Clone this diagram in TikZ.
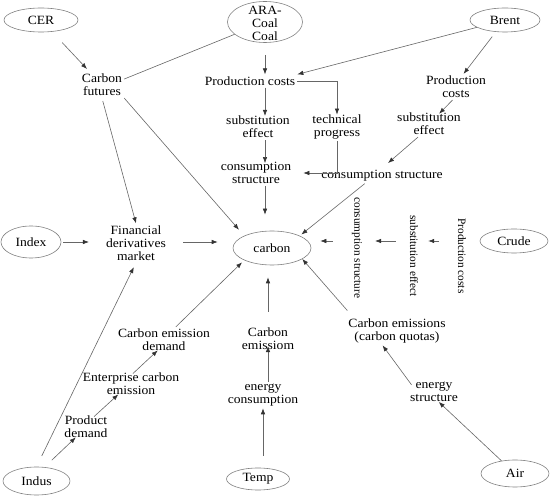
\documentclass[tikz,border=0pt]{standalone}
\usepackage{fontspec}
\setmainfont{Liberation Serif}[FakeStretch=1.08]
\newfontfamily\vfont{Liberation Serif}
\usetikzlibrary{shapes.geometric,arrows.meta}
\begin{document}
\begin{tikzpicture}[x=1pt,y=-1pt,
  lbl/.style={align=center,inner sep=2pt,font=\fontsize{12.6}{13}\selectfont},
  vlbl/.style={inner sep=2pt,rotate=-90,font=\vfont\fontsize{11.3}{13}\selectfont},
  ell/.style={ellipse,draw=black!50,line width=0.6pt,inner sep=0pt,font=\fontsize{12.6}{13}\selectfont},
  ln/.style={draw=black!60,line width=0.6pt},
  arr/.style={ln,-{Latex[length=6pt,width=4.5pt,color=black!80]}},
]
\useasboundingbox (0,0) rectangle (550,497);

% ellipses
\node[ell,minimum width=74pt,minimum height=24pt] (cer) at (41,20) {CER};
\node[ell,minimum width=75pt,minimum height=41pt] (ara) at (265,22) {};
\node[lbl] (aratxt) at (265,23) {ARA-\\Coal\\Coal};
\node[ell,minimum width=70pt,minimum height=24pt] (brent) at (505,20) {Brent};
\node[ell,minimum width=60pt,minimum height=32pt] (index) at (31,242) {Index};
\node[ell,minimum width=78pt,minimum height=34pt] (carbon) at (272,248) {carbon};
\node[ell,minimum width=68pt,minimum height=24pt] (crude) at (514,241) {Crude};
\node[ell,minimum width=67pt,minimum height=28pt] (indus) at (36.5,481) {Indus};
\node[ell,minimum width=63pt,minimum height=22pt] (temp) at (258,479) {Temp};
\node[ell,minimum width=68pt,minimum height=27pt] (air) at (515,473.5) {Air};

% text nodes
\node[lbl] (fut) at (102,85) {Carbon\\futures};
\node[lbl] (pc) at (250,81) {Production costs};
\node[lbl] (pcr) at (456,87) {Production\\costs};
\node[lbl] (subr) at (429,124) {substitution\\effect};
\node[lbl] (subm) at (258,127) {substitution\\effect};
\node[lbl] (tech) at (337,127) {technical\\progress};
\node[lbl] (consm) at (256,173) {consumption\\structure};
\node[lbl] (consr) at (382,176) {consumption structure};
\node[lbl] (fin) at (136,243) {Financial\\derivatives\\market};
\node[vlbl] (consv) at (357,248) {consumption structure};
\node[vlbl] (subv) at (414,256) {substitution effect};
\node[vlbl] (pcv) at (462,256) {Production costs};
\node[lbl] (ced) at (164,340) {Carbon emission\\demand};
\node[lbl] (cem) at (268,339) {Carbon\\emissiom};
\node[lbl] (ces) at (397,331) {Carbon emissions\\(carbon quotas)};
\node[lbl] (ent) at (131,384) {Enterprise carbon\\emission};
\node[lbl] (econ) at (263,395) {energy\\consumption};
\node[lbl] (estr) at (434,392) {energy\\structure};
\node[lbl] (prod) at (86,427) {Product\\demand};

% connectors
\draw[arr,shorten <=15pt,shorten >=4pt] (cer) -- (fut);
\draw[ln] (fut.15) -- (ara);
\draw[arr,shorten >=8pt] (fut.south east) -- (carbon.north west);
\draw[arr,shorten <=3pt] (fut.south) -- (fin.north);
\draw[arr] (brent) -- (pc.north east);
\draw[arr,shorten <=12pt] (ara.south) -- (ara.south |- pc.north);
\draw[arr,shorten >=-2pt] (ara.south |- pc.south) -- (ara.south |- subm.north);
\draw[arr,shorten >=-2pt] (pc.east) -| (tech.north);
\draw[arr,shorten >=10pt] (tech.south) |- (consm.east);
\draw[arr,shorten >=-3pt] (ara.south |- subm.south) -- (ara.south |- consm.north);
\draw[arr,shorten >=16pt] (ara.south |- consm.south) -- (ara.south |- carbon.north);
\draw[arr,shorten <=6pt] (brent) -- (pcr.60);
\draw[arr,shorten >=-4pt] (pcr.255) -- (subr);
\draw[arr,shorten >=8pt] (subr.230) -- (consr.north);
\draw[arr,shorten >=2pt] (consr.204) -- (carbon.north east);
\draw[arr,shorten <=2pt,shorten >=15pt] (index.east) -- (index.east -| fin.west);
\draw[arr,shorten <=15pt,shorten >=15pt] (index.east -| fin.east) -- (index.east -| carbon.west);
\draw[arr,shorten <=17pt,shorten >=8pt] (crude.west -| pcv.south) -- (crude.west -| subv.north);
\draw[arr,shorten <=12pt,shorten >=11pt] (crude.west -| subv.south) -- (crude.west -| consv.north);
\draw[arr,shorten <=17pt,shorten >=9pt] (crude.west -| consv.south) -- (crude.west -| carbon.east);
\draw[arr,shorten <=8pt] (ces.162) -- (carbon.-20);
\draw[arr,shorten <=-6pt] (estr.north west) -- (ces.-135);
\draw[arr,shorten >=-3pt] (air) -- (estr.-60);
\draw[arr,shorten <=12pt] (econ.south |- temp.north) -- (econ.south);
\draw[arr,shorten >=-6pt] (cem.south |- econ.north) -- (cem.south);
\draw[arr,shorten <=14pt,shorten >=12pt] (cem.north) -- (cem.north |- carbon.south);
\draw[arr,shorten <=10pt,shorten >=-4pt] (indus.60) -- (prod.-135);
\draw[arr,shorten <=-4pt,shorten >=-4pt] (prod.50) -- (ent.220);
\draw[arr,shorten <=-4pt,shorten >=-4pt] (ent.70) -- (ced.235);
\draw[arr,shorten >=3pt] (ced.48) -- (carbon.south west);
\draw[arr,shorten <=12pt,shorten >=5pt] (indus.north) -- (fin.south);
\end{tikzpicture}
\end{document}
